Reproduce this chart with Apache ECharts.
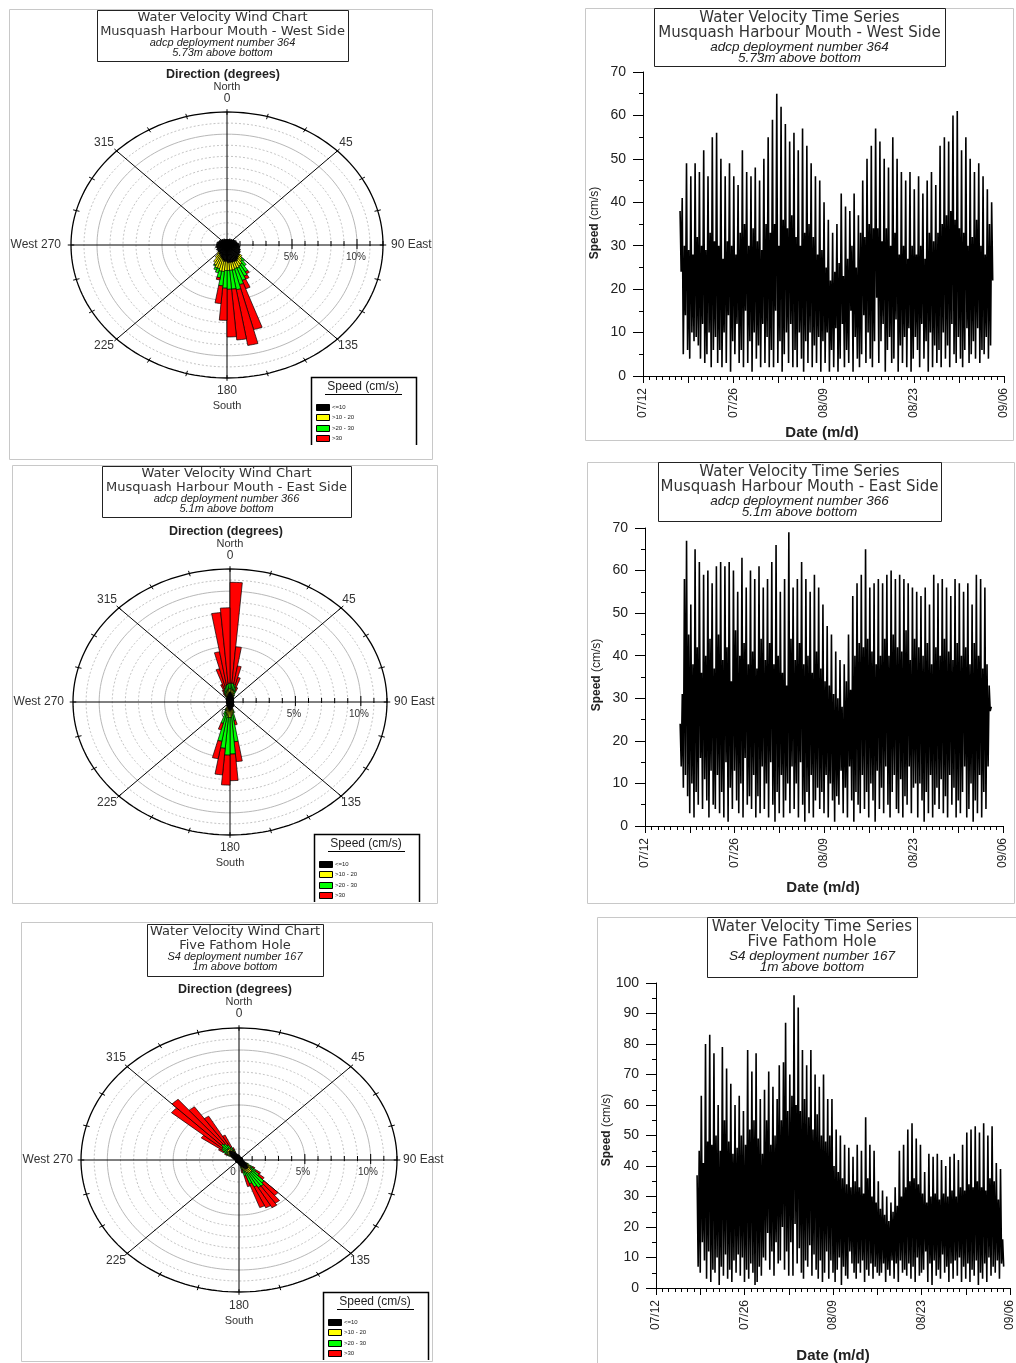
<!DOCTYPE html>
<html><head><meta charset="utf-8">
<script src="https://cdn.jsdelivr.net/npm/echarts@6/dist/echarts.min.js"></script>
<style>html,body{margin:0;padding:0;background:#fff}#c{width:1016px;height:1363px}</style>
</head><body><div id="c"></div>
<script>
// ================= DATA =================
const speedClasses = ['<=10', '>10 - 20', '>20 - 30', '>30'];
const classColors = ['#000000', '#ffff00', '#00ff00', '#ff0000'];
const ringLevels = [1,2,3,4,5,6,7,8,9,10,11,12];     // % rings
const spokeAngles = [0, 45, 90, 135];
const rimTickAngles = [0,15,30,45,60,75,90,105,120,135,150,165,180,195,210,225,240,255,270,285,300,315,330,345];

// Rose 1 : Musquash Harbour Mouth - West Side (percent per 5-degree bin, bins start at 0,5,...,355)
const rose1Black = [0.5,0.5,0.5,0.5,0.6,0.5,0.6,0.6,0.6, 0.7,0.7,0.7,0.8,0.7,0.8,0.8,0.9,0.9,
                    0.9,1.0,1.0,1.0,1.1,1.1,1.2,1.2,1.3, 1.3,1.4,1.5,1.6,1.6,1.6,1.6,1.6,1.6,
                    1.5,1.5,1.4,1.3,1.2,1.1,1.0,1.0,0.9, 0.9,0.9,0.8,0.9,0.8,0.8,0.9,0.8,0.8,
                    0.8,0.8,0.7,0.8,0.7,0.7,0.7,0.6,0.7, 0.6,0.6,0.6,0.5,0.6,0.5,0.5,0.5,0.5];
const rose1Dirs   = [130,135,140,145,150,155,160,165,170,175,180,185,190,195,200,205,210,215,220];
const rose1Yellow = [0.2,0.3,0.4,0.5,0.5,0.6,0.6,0.7,0.7,0.7,0.8,0.9,1.0,0.9,1.0,0.9,0.8,0.4,0.2];
const rose1Green  = [0,  0.3,0.5,0.8,1.0,1.2,1.5,1.8,1.7,1.7,1.6,1.3,0.6,0.4,0.2,0.1,0,  0,  0  ];
const rose1Red    = [0,  0,  0,  0.2,0.3,0.8,4.2,5.1,4.6,4.3,2.9,1.6,0.2,0,  0,  0,  0,  0,  0  ];

// Rose 2 : Musquash Harbour Mouth - East Side
const rose2Black = [0.9,0.8,0.8,0.7,0.6,0.5,0.5,0.4,0.4, 0.4,0.3,0.3,0.3,0.3,0.3,0.3,0.3,0.3,
                    0.3,0.3,0.3,0.3,0.3,0.3,0.3,0.4,0.4, 0.4,0.4,0.5,0.5,0.5,0.6,0.7,0.7,0.8,
                    0.8,0.8,0.7,0.6,0.5,0.5,0.4,0.4,0.4, 0.3,0.3,0.3,0.3,0.3,0.3,0.3,0.3,0.3,
                    0.3,0.3,0.3,0.3,0.3,0.3,0.3,0.4,0.4, 0.4,0.4,0.5,0.5,0.6,0.6,0.7,0.8,0.9];
const rose2Dirs   = [325,330,335,340,345,350,355,0,  5,  10, 15, 20, 25, 160,165,170,175,180,185,190,195,200,205];
const rose2Yellow = [0.1,0.2,0.2,0.3,0.3,0.3,0.3,0.3,0.3,0.3,0.3,0.2,0.1,0.2,0.3,0.5,0.6,0.6,0.6,0.5,0.4,0.3,0.2];
const rose2Green  = [0.1,0.2,0.3,0.4,0.5,0.5,0.5,0.5,0.6,0.5,0.4,0.3,0.1,0.2,0.7,2.4,3.3,3.4,2.8,2.4,1.0,0.4,0.1];
const rose2Red    = [0.2,0.3,0.6,1.8,3.1,6.5,6.8,9.1,3.3,1.7,0.9,0.3,0,  0,  0.4,1.8,2.4,2.7,2.4,1.6,0.6,0,  0  ];

// Rose 3 : Five Fathom Hole
const rose3Black = [0.4,0.4,0.3,0.3,0.3,0.3,0.3,0.3,0.3, 0.3,0.3,0.3,0.3,0.3,0.3,0.3,0.3,0.3,
                    0.3,0.3,0.4,0.4,0.5,0.6,0.7,0.8,0.9, 1.0,1.0,1.0,0.9,0.8,0.7,0.6,0.5,0.4,
                    0.4,0.3,0.3,0.3,0.3,0.3,0.3,0.3,0.3, 0.3,0.3,0.3,0.3,0.3,0.3,0.3,0.3,0.3,
                    0.3,0.4,0.4,0.5,0.6,0.7,0.8,0.9,1.0, 1.1,1.1,1.0,0.9,0.8,0.6,0.5,0.5,0.4];
const rose3Dirs   = [295,300,305,310,315,320,325,330,335,115,120,125,130,135,140,145,150,155,160,165];
const rose3Yellow = [0.1,0.2,0.2,0.2,0.2,0.2,0.2,0.1,0.1,0.1,0.2,0.3,0.3,0.4,0.4,0.4,0.4,0.3,0.2,0.1];
const rose3Green  = [0.2,0.4,0.5,0.5,0.6,0.5,0.4,0.3,0.1,0.1,0.3,0.5,0.8,1.3,1.5,1.5,1.4,1.2,0.6,0.2];
const rose3Red    = [0.2,0.4,1.9,5.0,5.3,4.1,3.0,1.2,0.2,0,  0.2,0.4,0.5,1.5,1.9,2.1,2.1,2.3,1.0,0.3];

// Time series (speed cm/s); x = days after 07/12, one sample every 4 hours
const xTickLabels = ['07/12','','07/26','','08/09','','08/23','','09/06'];
const sampleHours = 4;
const ts1Start = 5.75;
const ts1Values = [
 38,24,41,5,30,14, 49,6,29,4,46,10, 28,8,49,9,32,7, 47,4,30,12,52,3, 29,5,46,10,33,2,
 55,6,31,9,56,3, 30,6,50,2,27,10, 46,3,31,14,49,1, 30,8,46,5,28,12, 44,3,33,6,52,2,
 35,15,47,3,30,8, 46,1,34,10,48,4, 31,7,45,2,29,12, 50,3,35,9,55,2, 33,6,59,2,35,15,
 65,3,30,8,62,1, 36,5,58,10,34,3, 54,12,37,2,56,6, 32,2,52,10,30,4, 57,1,33,8,53,3,
 35,10,49,2,32,7, 46,3,28,9,45,1, 29,8,40,3,25,10, 36,1,22,6,33,2, 24,11,35,1,26,4,
 42,12,23,2,39,6, 27,3,38,15,30,1, 42,9,25,4,37,2, 33,5,45,14,32,3, 50,10,35,4,53,2,
 34,8,57,18,34,3, 54,8,31,12,50,1, 34,6,48,9,30,3, 55,4,33,13,50,1, 28,7,47,3,30,9,
 45,2,27,11,47,1, 30,4,43,9,28,6, 46,2,30,12,42,4, 27,8,45,1,33,10, 47,2,31,7,44,3,
 33,6,53,2,35,10, 55,4,37,7,54,2, 38,12,60,5,36,3, 61,9,34,4,52,2, 33,6,55,11,30,3,
 50,5,32,8,47,4, 36,11,49,3,30,6, 46,5,28,9,43,4, 35,7,40,22];
const ts2Start = 5.5;
const ts2Values = [
 24,14,31,9,58,12, 67,7,45,3,52,10, 38,2,65,8,42,5, 62,16,36,4,59,11, 40,6,60,2,44,13,
 57,5,37,4,61,12, 45,3,62,8,39,2, 61,15,42,1,62,9, 34,4,60,13,46,6, 55,3,40,10,63,2,
 43,16,56,5,38,7, 60,4,41,12,58,2, 37,7,61,3,44,14, 56,4,39,10,58,2, 43,15,62,5,38,1,
 66,8,40,3,55,12, 36,2,58,6,33,10, 69,3,44,14,56,4, 39,10,58,2,43,15, 62,5,38,1,58,8,
 40,3,55,12,36,2, 59,6,41,9,56,4, 37,8,52,3,34,12, 47,2,33,10,45,6, 31,1,41,7,30,5,
 39,13,28,3,38,9, 34,2,45,14,32,6, 54,1,40,8,57,5, 43,3,59,12,42,4, 65,8,44,2,56,10,
 41,6,57,1,38,13, 58,4,40,9,57,3, 44,14,59,5,40,2, 60,8,45,12,58,4, 42,3,59,11,41,2,
 58,7,46,5,57,14, 39,3,56,9,44,10, 55,2,42,10,54,6, 40,1,56,8,43,3, 52,12,38,2,59,5,
 42,9,57,4,40,11, 58,3,44,7,56,2, 41,12,54,5,39,9, 58,2,43,6,57,3, 40,8,55,14,42,2,
 57,4,38,10,52,1, 43,6,59,3,40,12, 58,2,37,8,56,4, 38,14,33,27,28];
const ts3Start = 6.5;
const ts3Values = [
 37,7,45,5,63,15, 41,9,80,3,48,12, 83,2,47,6,77,5, 50,10,60,1,45,7, 79,4,55,11,72,3,
 48,6,67,2,44,9, 60,5,46,11,63,4, 50,10,58,2,47,6, 78,3,52,8,71,5, 55,1,77,2,49,7,
 62,4,44,10,65,9, 55,18,71,6,47,12, 66,4,50,15,62,8, 73,9,55,20,74,6, 87,12,58,4,70,15,
 63,4,96,21,60,8, 92,13,58,5,78,3, 62,9,73,7,56,14, 78,4,52,11,70,6, 57,3,66,9,50,2,
 70,5,48,12,62,3, 50,9,62,5,40,2, 52,6,38,10,50,1, 36,7,47,4,34,3, 46,12,33,8,43,5,
 35,3,47,8,33,5, 45,9,31,2,56,6, 36,4,47,8,30,3, 45,7,28,5,35,4, 26,5,32,8,24,2,
 30,6,22,4,28,9, 25,3,33,8,27,2, 45,9,30,5,47,6, 33,4,52,8,35,3, 54,7,36,2,49,10,
 34,4,47,5,31,6, 38,12,28,2,44,8, 30,1,43,9,31,4, 44,6,29,3,42,11, 31,5,40,7,30,2,
 43,8,32,3,44,9, 30,4,42,10,33,2, 47,7,32,3,51,8, 34,2,52,6,33,4, 53,9,35,1,51,5,
 33,3,54,8,32,2, 50,10,36,4,53,7, 35,5,41,9,29,3, 39,8,16,7];

// ================= LAYOUT / RENDER =================
const FONT = '"Liberation Sans", Arial, Helvetica, sans-serif';
const WFONT = '"DejaVu Sans", Verdana, sans-serif';
const D2R = Math.PI / 180;
const RMAX = 12;

const roses = [
  {cx:227, cy:245, rx:156, ry:133, frame:[9,9,423,450], tbox:[97,10,251,51],
   title:['Water Velocity Wind Chart','Musquash Harbour Mouth - West Side','adcp deployment number 364','5.73m above bottom'],
   black:rose1Black, dirs:rose1Dirs, y:rose1Yellow, g:rose1Green, r:rose1Red},
  {cx:230, cy:702, rx:157, ry:133, frame:[12,465,425,438], tbox:[102,466,249,51],
   title:['Water Velocity Wind Chart','Musquash Harbour Mouth - East Side','adcp deployment number 366','5.1m above bottom'],
   black:rose2Black, dirs:rose2Dirs, y:rose2Yellow, g:rose2Green, r:rose2Red},
  {cx:239, cy:1160, rx:158, ry:132, frame:[21,922,411,439], tbox:[147,924,176,52],
   title:['Water Velocity Wind Chart','Five Fathom Hole','S4 deployment number 167','1m above bottom'],
   black:rose3Black, dirs:rose3Dirs, y:rose3Yellow, g:rose3Green, r:rose3Red}
];
const tss = [
  {grid:{left:643, top:72, width:361, height:304}, ymax:70, frame:[585,8,428,432], tbox:[654,8,291,58],
   title:['Water Velocity Time Series','Musquash Harbour Mouth - West Side','adcp deployment number 364','5.73m above bottom'],
   start:ts1Start, values:ts1Values, ytitle:[595,223], xtitle:[822,433]},
  {grid:{left:645, top:528, width:358, height:298}, ymax:70, frame:[587,462,427,441], tbox:[658,462,283,59],
   title:['Water Velocity Time Series','Musquash Harbour Mouth - East Side','adcp deployment number 366','5.1m above bottom'],
   start:ts2Start, values:ts2Values, ytitle:[597,675], xtitle:[823,888]},
  {grid:{left:656, top:983, width:360, height:305}, ymax:100, frame:[597,917,430,460], tbox:[707,917,210,60],
   title:['Water Velocity Time Series','Five Fathom Hole','S4 deployment number 167','1m above bottom'],
   start:ts3Start, values:ts3Values, ytitle:[607,1130], xtitle:[833,1356]}
];

function roseItems(R) {
  const items = [];
  for (let i = 0; i < R.black.length; i++) {
    const a = i * 5;
    const k = R.dirs.indexOf(a);
    const vals = [R.black[i], k >= 0 ? R.y[k] : 0, k >= 0 ? R.g[k] : 0, k >= 0 ? R.r[k] : 0];
    let r = 0;
    vals.forEach((v, c) => { if (v > 0) { items.push([a, a + 5, r, r + v, c]); r += v; } });
  }
  return items;
}
function P(api, r, deg) { const t = deg * D2R; return api.coord([r * Math.sin(t), r * Math.cos(t)]); }

function sectorRender(params, api) {
  const a0 = api.value(0), a1 = api.value(1), r0 = api.value(2), r1 = api.value(3), c = api.value(4);
  const pts = [], n = 4;
  for (let j = 0; j <= n; j++) pts.push(P(api, r1, a0 + (a1 - a0) * j / n));
  if (r0 > 0) { for (let j = n; j >= 0; j--) pts.push(P(api, r0, a0 + (a1 - a0) * j / n)); }
  else pts.push(api.coord([0, 0]));
  return {type:'polygon', shape:{points:pts}, style:{fill:classColors[c], stroke:'#000', lineWidth:0.7}};
}
function ringRender(params, api) {
  const r = api.value(0), pts = [];
  for (let d = 0; d <= 360; d += 2) pts.push(P(api, r, d));
  let style;
  if (r === RMAX) style = {stroke:'#000', lineWidth:1.3, fill:'none'};
  else if (r % 5 === 0) style = {stroke:'#b8b8b8', lineWidth:1, fill:'none'};
  else style = {stroke:'#c4c4c4', lineWidth:1, lineDash:[2,2], fill:'none'};
  return {type:'polyline', shape:{points:pts}, style};
}
function spokeRender(params, api) {
  const a = api.value(0);
  const p1 = P(api, RMAX, a), p2 = P(api, RMAX, a + 180);
  return {type:'line', shape:{x1:p1[0], y1:p1[1], x2:p2[0], y2:p2[1]}, style:{stroke:'#000', lineWidth:1}};
}
function rimTickRender(params, api) {
  const a = api.value(0);
  const p1 = P(api, RMAX + 0.25, a), p2 = P(api, RMAX - 0.25, a);
  return {type:'line', shape:{x1:p1[0], y1:p1[1], x2:p2[0], y2:p2[1]}, style:{stroke:'#000', lineWidth:1}};
}
function eastTickRender(params, api) {
  const v = api.value(0);
  const p = api.coord([v, 0]);
  const major = v % 5 === 0;
  return {type:'line', shape:{x1:p[0], y1:p[1] - (major ? 6 : 4), x2:p[0], y2:p[1] + (major ? 4 : 1)}, style:{stroke:'#000', lineWidth:1}};
}

const grids = [], xAxes = [], yAxes = [], series = [], G = [];
function txt(x, y, text, o) {
  o = o || {};
  G.push({type:'text', x:x, y:y, z:o.z == null ? 10 : o.z, rotation:o.rot || 0, silent:true,
    style:{text:text, fontSize:o.size || 12, fontWeight:o.bold ? 'bold' : 'normal', fontStyle:o.italic ? 'italic' : 'normal',
      fontFamily:o.font || FONT, fill:o.color || '#000', align:o.align || 'center', verticalAlign:'middle', rich:o.rich}});
}
function rect(b, stroke, lw, z) {
  G.push({type:'rect', z:z || 5, silent:true, shape:{x:b[0] + 0.5, y:b[1] + 0.5, width:b[2], height:b[3]},
    style:{fill:'none', stroke:stroke, lineWidth:lw || 1}});
}
function fillRect(x, y, w, h, fill) {
  G.push({type:'rect', z:12, silent:true, shape:{x:x + 0.5, y:y + 0.5, width:w, height:h}, style:{fill:fill, stroke:'#000', lineWidth:1}});
}
function line(x1, y1, x2, y2, lw) {
  G.push({type:'line', z:10, silent:true, shape:{x1:x1, y1:y1, x2:x2, y2:y2}, style:{stroke:'#000', lineWidth:lw || 1}});
}

// ---- roses ----
roses.forEach((R, k) => {
  grids.push({left:R.cx - R.rx, top:R.cy - R.ry, width:2 * R.rx, height:2 * R.ry, show:false});
  xAxes.push({type:'value', gridIndex:k, min:-RMAX, max:RMAX, show:false});
  yAxes.push({type:'value', gridIndex:k, min:-RMAX, max:RMAX, show:false});
  const base = {type:'custom', coordinateSystem:'cartesian2d', xAxisIndex:k, yAxisIndex:k, silent:true, animation:false, clip:false};
  series.push(Object.assign({}, base, {z:1, renderItem:ringRender, data:ringLevels.map(v => [v, 0])}));
  series.push(Object.assign({}, base, {z:2, renderItem:spokeRender, data:spokeAngles.map(v => [v, 0])}));
  series.push(Object.assign({}, base, {z:2, renderItem:rimTickRender, data:rimTickAngles.map(v => [v, 0])}));
  series.push(Object.assign({}, base, {z:2, renderItem:eastTickRender, data:ringLevels.map(v => [v, 0])}));
  series.push(Object.assign({}, base, {z:4, renderItem:sectorRender, data:roseItems(R)}));

  const cx = R.cx, cy = R.cy;
  rect(R.frame, '#c8c8c8', 1, 1);
  rect(R.tbox, '#222', 1, 5);
  const tcx = R.tbox[0] + R.tbox[2] / 2, tt = R.tbox[1];
  txt(tcx, tt + 8, R.title[0], {size:13, color:'#333', font:WFONT});
  txt(tcx, tt + 22, R.title[1], {size:13, color:'#333', font:WFONT});
  txt(tcx, tt + 33, R.title[2], {size:11, italic:true, color:'#222'});
  txt(tcx, tt + 43, R.title[3], {size:11, italic:true, color:'#222'});
  txt(cx - 4, cy - 170, 'Direction (degrees)', {size:12.5, bold:true, color:'#222'});
  txt(cx, cy - 158, 'North', {size:11, color:'#333'});
  txt(cx, cy - 146, '0', {size:12, color:'#333'});
  txt(cx - 123, cy - 102, '315', {size:12, color:'#333'});
  txt(cx + 119, cy - 102, '45', {size:12, color:'#333'});
  txt(cx - 166, cy, 'West 270', {size:12, color:'#333', align:'right'});
  txt(cx + 164, cy, '90 East', {size:12, color:'#333', align:'left'});
  txt(cx - 123, cy + 101, '225', {size:12, color:'#333'});
  txt(cx + 121, cy + 101, '135', {size:12, color:'#333'});
  txt(cx, cy + 146, '180', {size:12, color:'#333'});
  txt(cx, cy + 161, 'South', {size:11, color:'#333'});
  txt(cx + 64, cy + 12, '5%', {size:10, color:'#333'});
  txt(cx + 129, cy + 12, '10%', {size:10, color:'#333'});
  txt(cx - 6, cy + 12, '0', {size:10, color:'#333', z:0});
  // legend
  const L = cx + 84, T = cy + 132, W = 105, H = 68;
  G.push({type:'polyline', z:10, silent:true, shape:{points:[[L + 0.5, T + H], [L + 0.5, T + 0.5], [L + W + 0.5, T + 0.5], [L + W + 0.5, T + H]]},
    style:{stroke:'#000', lineWidth:1.5, fill:'none'}});
  txt(L + 52, T + 10, 'Speed (cm/s)', {size:12, color:'#222'});
  line(L + 14, T + 17.5, L + 91, T + 17.5, 1);
  speedClasses.forEach((s, i) => {
    const yy = T + 27 + [0, 10, 21, 31][i];
    fillRect(L + 5, yy, 13, 6, classColors[i]);
    txt(L + 21, yy + 3.5, s, {size:6, align:'left', color:'#222'});
  });
});

// ---- time series ----
tss.forEach((S, j) => {
  const k = 3 + j;
  grids.push(Object.assign({show:false}, S.grid));
  xAxes.push({type:'value', gridIndex:k, min:0, max:56, interval:7,
    axisLine:{show:true, onZero:false, lineStyle:{color:'#000', width:1}},
    axisTick:{show:true, length:7, lineStyle:{color:'#000'}},
    minorTick:{show:true, splitNumber:7, length:4, lineStyle:{color:'#000'}},
    splitLine:{show:false}, minorSplitLine:{show:false},
    axisLabel:{rotate:90, margin:12, fontSize:12, color:'#222', fontFamily:FONT, showMinLabel:true, showMaxLabel:true, hideOverlap:false,
      formatter:function (v) { return xTickLabels[Math.round(v / 7)] || ''; }}});
  yAxes.push({type:'value', gridIndex:k, min:0, max:S.ymax, interval:10,
    axisLine:{show:true, onZero:false, lineStyle:{color:'#000', width:1}},
    axisTick:{show:true, length:10, lineStyle:{color:'#000'}},
    minorTick:{show:true, splitNumber:2, length:4, lineStyle:{color:'#000'}},
    splitLine:{show:false}, minorSplitLine:{show:false},
    axisLabel:{margin:17, fontSize:14, color:'#222', fontFamily:FONT}});
  series.push({type:'line', xAxisIndex:k, yAxisIndex:k, showSymbol:false, symbol:'none', animation:false, silent:true,
    sampling:null, lineStyle:{color:'#000', width:1.6}, z:3,
    data:S.values.map((v, i) => [S.start + i * sampleHours / 24, v])});

  rect(S.frame, '#c8c8c8', 1, 1);
  rect(S.tbox, '#222', 1, 5);
  const tcx = S.tbox[0] + S.tbox[2] / 2, tt = S.tbox[1];
  txt(tcx, tt + 10, S.title[0], {size:15, color:'#333', font:WFONT});
  txt(tcx, tt + 25, S.title[1], {size:15, color:'#333', font:WFONT});
  txt(tcx, tt + 39, S.title[2], {size:13.5, italic:true, color:'#222'});
  txt(tcx, tt + 50, S.title[3], {size:13.5, italic:true, color:'#222'});
  txt(S.ytitle[0], S.ytitle[1], '{b|Speed} (cm/s)', {size:12, rot:Math.PI / 2, color:'#222',
    rich:{b:{fontWeight:'bold', fontSize:12, fontFamily:FONT, fill:'#222'}}});
  txt(S.xtitle[0], S.xtitle[1], 'Date (m/d)', {size:15, bold:true, color:'#222'});
});

const chart = echarts.init(document.getElementById('c'), null, {renderer:'canvas', width:1016, height:1363});
chart.setOption({
  animation:false,
  backgroundColor:'#ffffff',
  grid:grids, xAxis:xAxes, yAxis:yAxes, series:series,
  graphic:{elements:G}
});
</script>
</body></html>
